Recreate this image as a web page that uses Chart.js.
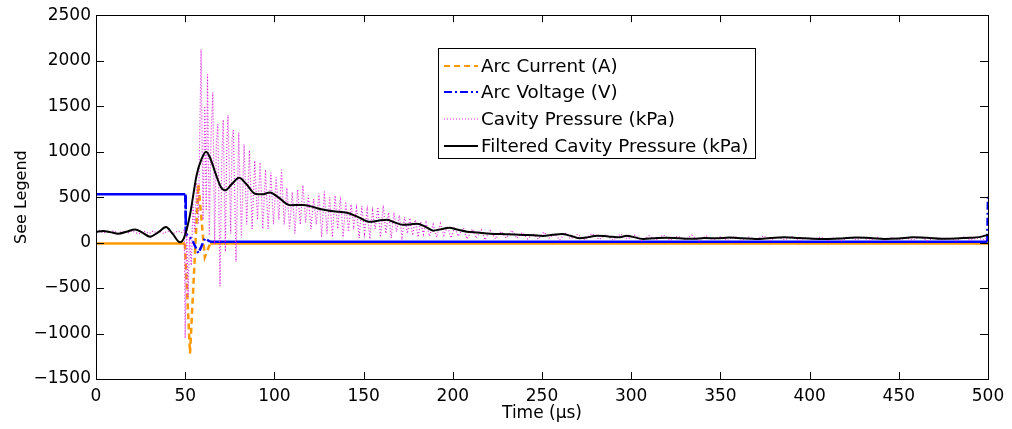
<!DOCTYPE html>
<html>
<head>
<meta charset="utf-8">
<script src="https://cdn.jsdelivr.net/npm/chart.js@4"></script>
<style>
  html, body { margin: 0; padding: 0; background: #fff; }
  #wrap { width: 1012px; height: 429px; }
</style>
</head>
<body>
<div id="wrap"><canvas id="c" width="1012" height="429"></canvas></div>
<script>
// ── Datos ───────────────────────────────────────────────────────
const xTicks = [0, 50, 100, 150, 200, 250, 300, 350, 400, 450, 500];
const yTicks = [-1500, -1000, -500, 0, 500, 1000, 1500, 2000, 2500];

const seriesNames = ['Arc Current (A)', 'Arc Voltage (V)', 'Cavity Pressure (kPa)', 'Filtered Cavity Pressure (kPa)'];

// corriente del arco [t (us), A]
const arcCurrent = [[0,-10],[49.8,-10],[52.7,-1220],[57.4,640],[61,-160],[64,-10],[500,-10]];

// tension del arco [t (us), V]
const arcVoltage = [[0,530],[50,530],[50.3,100],[53.6,40],[57.4,-117],[61.1,47],[63.9,10],[499.6,10],[500,530]];

// presion de la cavidad (cruda) [t (us), kPa]
const cavityPressure = [
  [0,115],[2,128],[4,105],[6,122],[8,110],[10,132],[12,100],[14,118],[16,126],[18,104],[20,130],[22,112],
  [24,96],[26,124],[28,118],[30,100],[32,128],[34,108],[36,122],[38,98],[40,126],[42,114],[44,104],[46,130],
  [48,110],[49.5,140],[50,-1050],[50.8,180],[51.6,-600],[52.4,60],[53.4,-250],[54.4,420],[55.4,120],[56.4,660],
  [57.4,200],[58.9,2125],[60,250],[61,1500],[61.8,350],[62.5,1850],[63.5,80],[64.5,1200],[65.5,1650],[66.5,-20],
  [67.5,1100],[68.3,1300],[69.5,-480],[70.5,900],[71.3,1350],[72.5,-100],[73.3,1050],[74,1400],[75.5,100],
  [76.3,1150],[77,1240],[78.5,-210],[80,1210],[81.5,50],[83,1080],[84.5,200],[86,1015],[87.5,150],[89,900],
  [90.5,250],[92,880],[93.5,150],[95,800],[96.5,150],[98,770],[99.5,200],[101,720],[102.5,250],[104,800],
  [105.5,200],[107,600],[108.5,150],[110,555],[111.5,100],[113,580],[114.5,200],[116,630],[117.5,220],[119,520],
  [120.5,150],[122,480],[123.5,200],[125,540],[126.5,60],[128,560],[129.5,100],[131,500],[132.5,60],[134,520],
  [135.5,150],[137,500],[138.5,60],[140,450],[141.5,120],[143,420],[144.5,180],[146,380],[147.5,50],[149,400],
  [150.5,100],[152,360],[153.5,40],[155,350],[156.5,150],[158,390],[159.5,60],[161,410],[162.5,100],[164,330],
  [165.5,50],[167,330],[168.5,120],[170,300],[171.5,60],[173,280],[174.5,100],[176,270],[177.5,80],[179,250],
  [180.5,60],[182,230],[183.5,90],[185,220],[187,70],[189,200],[191,60],[193,210],[195,80],[197,180],[199,50],
  [201,170],[203,70],[206,160],[208,40],[211,150],[213,50],[216,140],[218,30],[221,130],[224,40],[227,125],
  [230,50],[233,135],[236,45],[239,110],[242,40],[245,100],[248,35],[251,115],[254,50],[257,95],[260,30],
  [263,105],[266,40],[270,90],[274,30],[278,100],[282,35],[286,85],[290,25],[294,95],[298,40],[302,80],[306,20],
  [310,75],[314,30],[318,85],[322,25],[326,70],[330,30],[334,80],[338,20],[342,75],[346,30],[350,65],[354,25],
  [358,70],[362,20],[366,60],[370,30],[374,75],[378,25],[382,60],[386,30],[390,65],[394,20],[398,55],[402,30],
  [406,60],[410,25],[414,55],[418,20],[422,60],[426,30],[430,55],[434,25],[438,60],[442,20],[446,55],[450,30],
  [454,50],[458,25],[462,60],[466,20],[470,55],[474,30],[478,50],[482,20],[486,65],[490,25],[494,50],[498,30],
  [500,60]
];

// presion filtrada [t (us), kPa]
const filteredPressure = [
  [0,120],[4.1,127],[8,115],[12.5,98],[17,118],[21.9,145],[26,110],[30.3,65],[35,115],[39.2,171],[43,95],
  [47.1,3],[49.5,60],[52.7,305],[56.4,741],[59.2,919],[61.7,1000],[64,930],[67,760],[70,610],[72.3,574],
  [76,640],[80.2,712],[84,650],[89.1,537],[93,530],[97.5,550],[102,500],[108.7,411],[116,414],[121,395],
  [125.6,370],[133,345],[140.7,327],[147,280],[153.6,229],[158,240],[163,251],[167,225],[172,196],[176,200],
  [180,207],[185,170],[189,131],[193,145],[198,163],[203,140],[208,120],[214,110],[221,98],[230,92],[239.3,84],
  [245,80],[250.5,73],[256,85],[261.2,95],[266,75],[271.3,47],[276,60],[280.8,76],[287,68],[293.7,58],
  [297.4,75],[306.8,40],[313,48],[319.9,54],[327,47],[334.8,42],[341,50],[348,47],[355,55],[362,48],[370,40],
  [378,50],[386,58],[394,50],[402,42],[410,40],[418,46],[426,55],[434,50],[442,40],[450,45],[458,58],[466,52],
  [474,42],[482,45],[490,52],[495,60],[500,85]
];

const toXY = arr => arr.map(([x, y]) => ({ x, y }));
const fmtTick = v => (v < 0 ? '\u2212' + Math.abs(v) : String(v));
// los tramos largos y planos se ven continuos en el original (muestreo denso)
const dashUnlessFlat = dash => ctx => (Math.abs(ctx.p1.parsed.x - ctx.p0.parsed.x) > 20 ? [] : dash);

// ── Marco y ticks hacia adentro (estilo MATLAB) ─────────────────
const frameTicks = {
  id: 'frameTicks',
  afterDatasetsDraw(chart) {
    const { ctx, chartArea: a, scales } = chart;
    ctx.save();
    ctx.strokeStyle = '#000';
    ctx.lineWidth = 1;
    ctx.beginPath();
    xTicks.forEach(v => {
      const px = Math.round(scales.x.getPixelForValue(v)) + 0.5;
      ctx.moveTo(px, a.bottom); ctx.lineTo(px, a.bottom - 7);
      ctx.moveTo(px, a.top);    ctx.lineTo(px, a.top + 7);
    });
    yTicks.forEach(v => {
      const py = Math.round(scales.y.getPixelForValue(v)) + 0.5;
      ctx.moveTo(a.left, py);  ctx.lineTo(a.left + 8, py);
      ctx.moveTo(a.right, py); ctx.lineTo(a.right - 8, py);
    });
    ctx.stroke();
    ctx.strokeRect(Math.round(a.left) + 0.5, Math.round(a.top) + 0.5,
                   Math.round(a.right - a.left), Math.round(a.bottom - a.top));
    ctx.restore();
  }
};

// ── Leyenda dentro del area de datos ────────────────────────────
const boxLegend = {
  id: 'boxLegend',
  afterDraw(chart) {
    const { ctx } = chart;
    const bx = 438.5, by = 48.5, bw = 317, bh = 110;
    const rows = [66, 92, 119, 146];
    ctx.save();
    ctx.fillStyle = '#fff';
    ctx.fillRect(bx, by, bw, bh);
    ctx.strokeStyle = '#000';
    ctx.lineWidth = 1;
    ctx.strokeRect(bx, by, bw, bh);
    chart.data.datasets.forEach((ds, i) => {
      const y = rows[i];
      ctx.beginPath();
      ctx.strokeStyle = ds.borderColor;
      ctx.lineWidth = ds.legendWidth;
      ctx.setLineDash(ds.legendDash);
      ctx.moveTo(444, y); ctx.lineTo(478, y);
      ctx.stroke();
      ctx.setLineDash([]);
      ctx.fillStyle = '#000';
      ctx.font = '18.3px "DejaVu Sans"';
      ctx.textBaseline = 'middle';
      ctx.fillText(ds.label, 481, y + 1);
    });
    ctx.restore();
  }
};

new Chart(document.getElementById('c'), {
  type: 'line',
  data: {
    datasets: [
      { label: seriesNames[0], data: toXY(arcCurrent), borderColor: '#ff9900', borderWidth: 2.5,
        segment: { borderDash: dashUnlessFlat([6, 4]) }, legendDash: [6, 4], legendWidth: 2, order: 3 },
      { label: seriesNames[1], data: toXY(arcVoltage), borderColor: '#0000ff', borderWidth: 2.5,
        segment: { borderDash: dashUnlessFlat([8, 3, 2, 3]) }, legendDash: [8, 3, 2, 3], legendWidth: 2, order: 2 },
      { label: seriesNames[2], data: toXY(cavityPressure), borderColor: '#dd22dd', borderWidth: 1.2,
        borderDash: [1, 2], legendDash: [1, 2], legendWidth: 1.2, order: 1 },
      { label: seriesNames[3], data: toXY(filteredPressure), borderColor: '#000000', borderWidth: 2,
        cubicInterpolationMode: 'monotone', legendDash: [], legendWidth: 2, order: 0 },
    ],
  },
  options: {
    responsive: false, animation: false,
    layout: { padding: { top: 12, right: 24, left: 0, bottom: 0 } },
    elements: { point: { radius: 0 }, line: { tension: 0 } },
    plugins: { legend: { display: false }, tooltip: { enabled: false } },
    scales: {
      x: {
        type: 'linear', min: 0, max: 500,
        afterFit: s => { s.height = 50; },
        afterBuildTicks: s => { s.ticks = xTicks.map(v => ({ value: v })); },
        grid: { display: false, drawTicks: false }, border: { display: false },
        ticks: { color: '#000', padding: 7, font: { family: 'DejaVu Sans', size: 17 }, maxRotation: 0, callback: fmtTick },
        title: { display: true, text: 'Time (\u00b5s)', color: '#000', padding: { top: 0, bottom: 5 },
                 font: { family: 'DejaVu Sans', size: 17 } },
      },
      y: {
        type: 'linear', min: -1500, max: 2500,
        afterFit: s => { s.width = 96; },
        afterBuildTicks: s => { s.ticks = yTicks.map(v => ({ value: v })); },
        grid: { display: false, drawTicks: false }, border: { display: false },
        ticks: { color: '#000', padding: 5, font: { family: 'DejaVu Sans', size: 17 }, callback: fmtTick },
        title: { display: true, text: 'See Legend', color: '#000', padding: { top: 12, bottom: 0 },
                 font: { family: 'DejaVu Sans', size: 16 } },
      },
    },
  },
  plugins: [frameTicks, boxLegend],
});
</script>
</body>
</html>
